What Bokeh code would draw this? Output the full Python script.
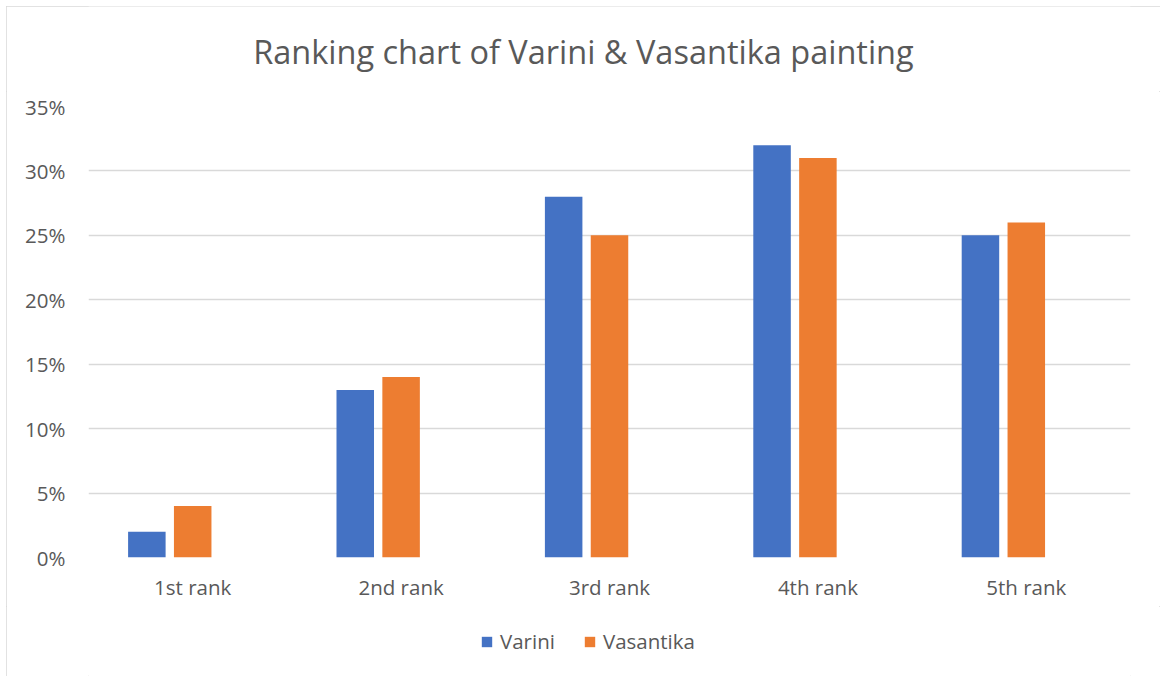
from bokeh.plotting import figure
from bokeh.layouts import column
from bokeh.models import (FactorRange, Range1d, NumeralTickFormatter, Legend, LegendItem,
                          ColumnDataSource, FixedTicker, Label)
from bokeh.transform import dodge
from bokeh.embed import file_html
from bokeh.resources import INLINE

title_text = "Ranking chart of Varini & Vasantika painting"
categories = ["1st rank", "2nd rank", "3rd rank", "4th rank", "5th rank"]
series_names = ["Varini", "Vasantika"]
varini = [0.02, 0.13, 0.28, 0.32, 0.25]
vasantika = [0.04, 0.14, 0.25, 0.31, 0.26]
y_ticks = [0, 0.05, 0.10, 0.15, 0.20, 0.25, 0.30, 0.35]

FONT = "Open Sans"
GRAY = "#595959"
BLUE = "#4472C4"
ORANGE = "#ED7D31"
W = 1154

def bare(fig):
    fig.outline_line_color = None
    fig.xgrid.grid_line_color = None
    fig.ygrid.grid_line_color = None

src = ColumnDataSource(dict(cat=categories, varini=varini, vasantika=vasantika))

# ---- title strip (frame aligned with the chart frame by the column) ----
pt = figure(width=W, height=85, output_backend="svg", toolbar_location=None,
            x_range=Range1d(0, 1), y_range=Range1d(0, 85), title=None,
            x_axis_location=None, y_axis_location=None, min_border=0)
bare(pt)
pt.add_layout(Label(x=0.475, y=40, text=title_text, text_align="center", text_baseline="middle",
                    text_font=FONT, text_font_size="32.5px", text_color=GRAY))

# ---- main chart ----
p = figure(width=W, height=515, output_backend="svg", toolbar_location=None, title=None,
           x_range=FactorRange(*categories, range_padding=0),
           y_range=Range1d(0, 0.35),
           min_border_left=82, min_border_right=30, min_border_top=15, min_border_bottom=49)

p.vbar(x=dodge("cat", -0.22, range=p.x_range), top="varini", width=0.18, source=src,
       fill_color=BLUE, line_color=None)
p.vbar(x=dodge("cat", 0.0, range=p.x_range), top="vasantika", width=0.18, source=src,
       fill_color=ORANGE, line_color=None)

p.outline_line_color = None
p.xgrid.grid_line_color = None
p.ygrid.grid_line_color = "#D9D9D9"
p.ygrid.grid_line_width = 1.5
p.yaxis.ticker = FixedTicker(ticks=y_ticks)
p.yaxis.formatter = NumeralTickFormatter(format="0%")
for ax in (p.xaxis, p.yaxis):
    ax.axis_line_color = None
    ax.major_tick_line_color = None
    ax.minor_tick_line_color = None
    ax.major_label_text_font = FONT
    ax.major_label_text_font_size = "20.5px"
    ax.major_label_text_color = GRAY
p.yaxis.major_label_standoff = 17
p.xaxis.major_label_standoff = 9

# ---- legend strip ----
pl = figure(width=W, height=70, output_backend="svg", toolbar_location=None, title=None,
            x_range=FactorRange(*categories, range_padding=0), y_range=Range1d(0, 1),
            x_axis_location=None, y_axis_location=None, min_border=0)
bare(pl)
# zero-height swatch renderers (invisible in the strip) that carry the legend glyphs
lr1 = pl.vbar(x=dodge("cat", -0.22, range=pl.x_range), top="varini", bottom="varini",
              width=0.18, source=src, fill_color=BLUE, line_color=None)
lr2 = pl.vbar(x=dodge("cat", 0.0, range=pl.x_range), top="vasantika", bottom="vasantika",
              width=0.18, source=src, fill_color=ORANGE, line_color=None)
legend = Legend(items=[LegendItem(label=series_names[0], renderers=[lr1]),
                       LegendItem(label=series_names[1], renderers=[lr2])],
                orientation="horizontal", location=(392, 21),
                label_text_font=FONT, label_text_font_size="20.5px", label_text_color=GRAY,
                glyph_width=13, glyph_height=13, spacing=28, label_standoff=7,
                padding=0, margin=0,
                border_line_color=None, background_fill_alpha=0)
pl.add_layout(legend, "center")

layout = column(pt, p, pl, spacing=0,
                styles={"margin-left": "6px", "margin-top": "6px",
                        "outline": "1.5px solid #D9D9D9", "outline-offset": "-1.5px"})

open("out.html", "w").write(file_html(layout, INLINE))
